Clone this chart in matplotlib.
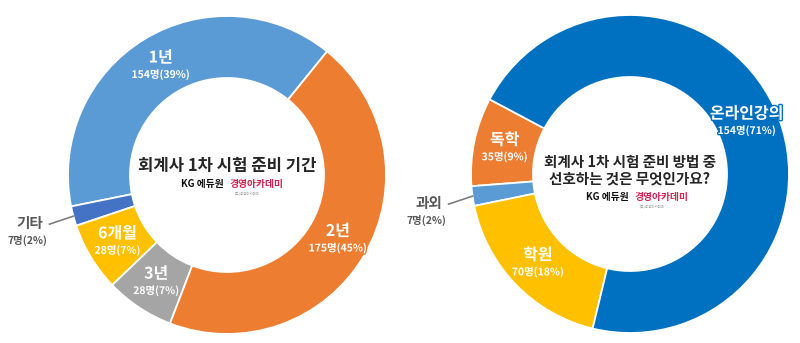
import matplotlib.pyplot as plt
import matplotlib.patheffects as pe
import numpy as np

plt.rcParams['font.family'] = ['Noto Sans CJK KR', 'DejaVu Sans']

# 회계사 1차 시험 준비 기간
period_labels = ['1년', '기타', '6개월', '3년', '2년']
period_counts = [154, 7, 28, 28, 175]
period_pcts = [39, 2, 7, 7, 45]
period_colors = ['#5B9BD5', '#4472C4', '#FFC000', '#A5A5A5', '#ED7D31']

# 선호하는 준비 방법
method_labels = ['독학', '과외', '학원', '온라인강의']
method_counts = [35, 7, 70, 154]
method_pcts = [9, 2, 18, 71]
method_colors = ['#ED7D31', '#5B9BD5', '#FFC000', '#0070C0']

W, H = 800, 343
R_OUT, R_IN = 159, 97

fig = plt.figure(figsize=(8, 3.43), dpi=100)
ax = fig.add_axes([0, 0, 1, 1])


def donut(cx, cy, labels, counts, pcts, colors, start):
    cy = H - cy
    wedges, _ = ax.pie(pcts, colors=colors, startangle=start, counterclock=True,
                       center=(cx, cy), radius=R_OUT,
                       wedgeprops=dict(width=R_OUT - R_IN, edgecolor='white', linewidth=1.3))
    for w, name, n, p, c in zip(wedges, labels, counts, pcts, colors):
        mid = np.deg2rad((w.theta1 + w.theta2) / 2)
        sub = f'{n}명({p}%)'
        if p < 5:
            # small slice: label outside with a leader line
            ex, ey = cx + R_OUT * np.cos(mid), cy + R_OUT * np.sin(mid)
            sx, sy = ex - 24, ey - 8
            ax.plot([sx, ex], [sy, ey], color='#7F7F7F', lw=1.2)
            ax.text(sx - 20, sy + 1, name, ha='center', va='center',
                    fontsize=10.5, fontweight='bold', color='#595959')
            ax.text(sx - 22, sy - 16, sub, ha='center', va='center',
                    fontsize=7.5, fontweight='bold', color='#595959')
        else:
            r = (R_OUT + R_IN) / 2
            lx, ly = cx + r * np.cos(mid), cy + r * np.sin(mid)
            stroke = [pe.withStroke(linewidth=2, foreground=c)]
            ax.text(lx, ly + 8, name, ha='center', va='center', fontsize=11.5,
                    fontweight='bold', color='white', path_effects=stroke)
            ax.text(lx, ly - 9, sub, ha='center', va='center', fontsize=7.5,
                    fontweight='bold', color='white', path_effects=stroke)


def logo(x, y):
    ax.text(x - 3, H - y, 'KG 에듀원', ha='right', va='center', fontsize=7,
            fontweight='bold', color='#111111')
    ax.text(x + 2, H - y, '경영아카데미', ha='left', va='center', fontsize=7,
            fontweight='bold', color='#D6204F')
    ax.text(x + 20, H - y - 9, '(주)경영아카데미', ha='center', va='center',
            fontsize=2.5, color='#999999')


donut(227, 175, period_labels, period_counts, period_pcts, period_colors, 51)
donut(630, 174, method_labels, method_counts, method_pcts, method_colors, 152)

ax.text(227, H - 166, '회계사 1차 시험 준비 기간', ha='center', va='center',
        fontsize=12, fontweight='bold', color='#262626')
logo(227, 184)

ax.text(630, H - 162, '회계사 1차 시험 준비 방법 중', ha='center', va='center',
        fontsize=10.5, fontweight='bold', color='#262626')
ax.text(630, H - 179, '선호하는 것은 무엇인가요?', ha='center', va='center',
        fontsize=10.5, fontweight='bold', color='#262626')
logo(632, 197)

ax.set_xlim(0, W)
ax.set_ylim(0, H)
ax.set_aspect('equal')
ax.axis('off')

fig.savefig('out.png', dpi=100, facecolor='white')
